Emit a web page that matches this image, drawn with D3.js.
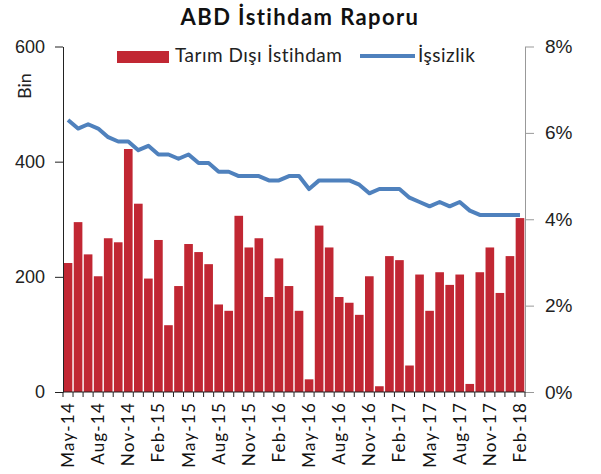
<!DOCTYPE html>
<meta charset="utf-8">
<head>
	<title>ABD İstihdam Raporu</title>
</head>
<style>
body{
	margin: 0;
	background: #fff;
}
svg{
	font-family: Lato, "Open Sans", sans-serif;
}
.axis-left path, .axis-left line{
	stroke: #222;
}
.axis-right path, .axis-right line{
	stroke: #999;
}
.tick text{
	fill: #222;
}
</style>
<body>
<svg width="601" height="474"></svg>

<script src="https://cdnjs.cloudflare.com/ajax/libs/d3/7.8.5/d3.min.js"></script>
<script>

// aylar (May-14 .. Feb-18)
var months = ['May-14','Jun-14','Jul-14','Aug-14','Sep-14','Oct-14','Nov-14','Dec-14',
	'Jan-15','Feb-15','Mar-15','Apr-15','May-15','Jun-15','Jul-15','Aug-15','Sep-15','Oct-15','Nov-15','Dec-15',
	'Jan-16','Feb-16','Mar-16','Apr-16','May-16','Jun-16','Jul-16','Aug-16','Sep-16','Oct-16','Nov-16','Dec-16',
	'Jan-17','Feb-17','Mar-17','Apr-17','May-17','Jun-17','Jul-17','Aug-17','Sep-17','Oct-17','Nov-17','Dec-17',
	'Jan-18','Feb-18'];

// Tarım dışı istihdam (bin)
var payrolls = [224, 295, 239, 201, 267, 260, 422, 327, 197, 264, 116, 184,
	257, 243, 222, 152, 141, 306, 251, 267, 165, 232, 184, 141,
	22, 289, 251, 165, 155, 134, 201, 10, 236, 229, 46, 204,
	141, 208, 186, 204, 14, 208, 251, 172, 236, 302];

// İşsizlik oranı (%)
var unemployment = [6.3, 6.1, 6.2, 6.1, 5.9, 5.8, 5.8, 5.6, 5.7, 5.5, 5.5, 5.4,
	5.5, 5.3, 5.3, 5.1, 5.1, 5.0, 5.0, 5.0, 4.9, 4.9, 5.0, 5.0,
	4.7, 4.9, 4.9, 4.9, 4.9, 4.8, 4.6, 4.7, 4.7, 4.7, 4.5, 4.4,
	4.3, 4.4, 4.3, 4.4, 4.2, 4.1, 4.1, 4.1, 4.1, 4.1];

var leftTicks = [0, 200, 400, 600];
var rightTicks = [0, 2, 4, 6, 8];
var xLabels = ['May-14','Aug-14','Nov-14','Feb-15','May-15','Aug-15','Nov-15','Feb-16',
	'May-16','Aug-16','Nov-16','Feb-17','May-17','Aug-17','Nov-17','Feb-18'];

var svg = d3.select('svg');
var pLeft = 63, pRight = 525, pTop = 46.5, pBottom = 392;

var x = d3.scaleBand()
	.domain(months)
	.range([pLeft, pRight])
	.paddingInner(0.14)
	.paddingOuter(0.07);

var yL = d3.scaleLinear().domain([0, 600]).range([pBottom, pTop]);
var yR = d3.scaleLinear().domain([0, 8]).range([pBottom, pTop]);

// baslik
svg.append('text')
	.attr('x', 300)
	.attr('y', 25)
	.attr('text-anchor', 'middle')
	.attr('font-size', 22)
	.attr('font-weight', 'bold')
	.attr('letter-spacing', 1.4)
	.attr('fill', '#111')
	.text('ABD İstihdam Raporu');

// barlar
svg.append('g')
	.selectAll('rect')
	.data(payrolls)
	.enter()
	.append('rect')
	.attr('x', function(d, i){ return x(months[i]); })
	.attr('width', x.bandwidth())
	.attr('y', function(d){ return yL(d); })
	.attr('height', function(d){ return pBottom - yL(d); })
	.attr('fill', '#C12733');

// cizgi
var line = d3.line()
	.x(function(d, i){ return x(months[i]) + x.bandwidth() / 2; })
	.y(function(d){ return yR(d); });

svg.append('path')
	.datum(unemployment)
	.attr('d', line)
	.attr('fill', 'none')
	.attr('stroke', '#4F81BD')
	.attr('stroke-width', 4)
	.attr('stroke-linejoin', 'round');

// sol eksen
var gl = svg.append('g')
	.attr('class', 'axis-left')
	.attr('transform', 'translate(' + pLeft + ',0)')
	.call(d3.axisLeft(yL).tickValues(leftTicks).tickSize(8).tickSizeOuter(0).tickPadding(10));
gl.selectAll('text').attr('font-size', 18);

// sag eksen
var gr = svg.append('g')
	.attr('class', 'axis-right')
	.attr('transform', 'translate(' + pRight + ',0)')
	.call(d3.axisRight(yR).tickValues(rightTicks).tickSize(9).tickSizeOuter(0).tickPadding(11)
		.tickFormat(function(d){ return d + '%'; }));
gr.selectAll('text').attr('font-size', 19);

// alt eksen
var gx = svg.append('g')
	.attr('transform', 'translate(0,' + pBottom + ')');
gx.append('line')
	.attr('x1', pLeft).attr('x2', pRight)
	.attr('stroke', '#222');
var step = (pRight - pLeft) / months.length;
gx.selectAll('.mtick')
	.data(d3.range(months.length + 1))
	.enter()
	.append('line')
	.attr('x1', function(d){ return pLeft + d * step; })
	.attr('x2', function(d){ return pLeft + d * step; })
	.attr('y1', 0)
	.attr('y2', 5)
	.attr('stroke', '#222');
gx.selectAll('.xl')
	.data(xLabels)
	.enter()
	.append('text')
	.attr('transform', function(d){
		return 'translate(' + (x(d) + x.bandwidth() / 2 + 6) + ',10) rotate(-90)';
	})
	.attr('text-anchor', 'end')
	.attr('font-size', 17)
	.attr('letter-spacing', 1.2)
	.attr('fill', '#111')
	.text(function(d){ return d; });

// Bin
svg.append('text')
	.attr('transform', 'translate(31,86) rotate(-90)')
	.attr('text-anchor', 'middle')
	.attr('font-size', 18)
	.attr('fill', '#222')
	.text('Bin');

// lejant
var lg = svg.append('g');
lg.append('rect')
	.attr('x', 117).attr('y', 51)
	.attr('width', 52).attr('height', 12)
	.attr('fill', '#C12733');
lg.append('text')
	.attr('x', 175).attr('y', 62)
	.attr('font-size', 19)
	.attr('letter-spacing', 0.5)
	.attr('fill', '#222')
	.text('Tarım Dışı İstihdam');
lg.append('line')
	.attr('x1', 360).attr('x2', 415)
	.attr('y1', 56).attr('y2', 56)
	.attr('stroke', '#4F81BD')
	.attr('stroke-width', 4);
lg.append('text')
	.attr('x', 418).attr('y', 62)
	.attr('font-size', 19)
	.attr('letter-spacing', 0.5)
	.attr('fill', '#222')
	.text('İşsizlik');

</script>
</body>
</html>
